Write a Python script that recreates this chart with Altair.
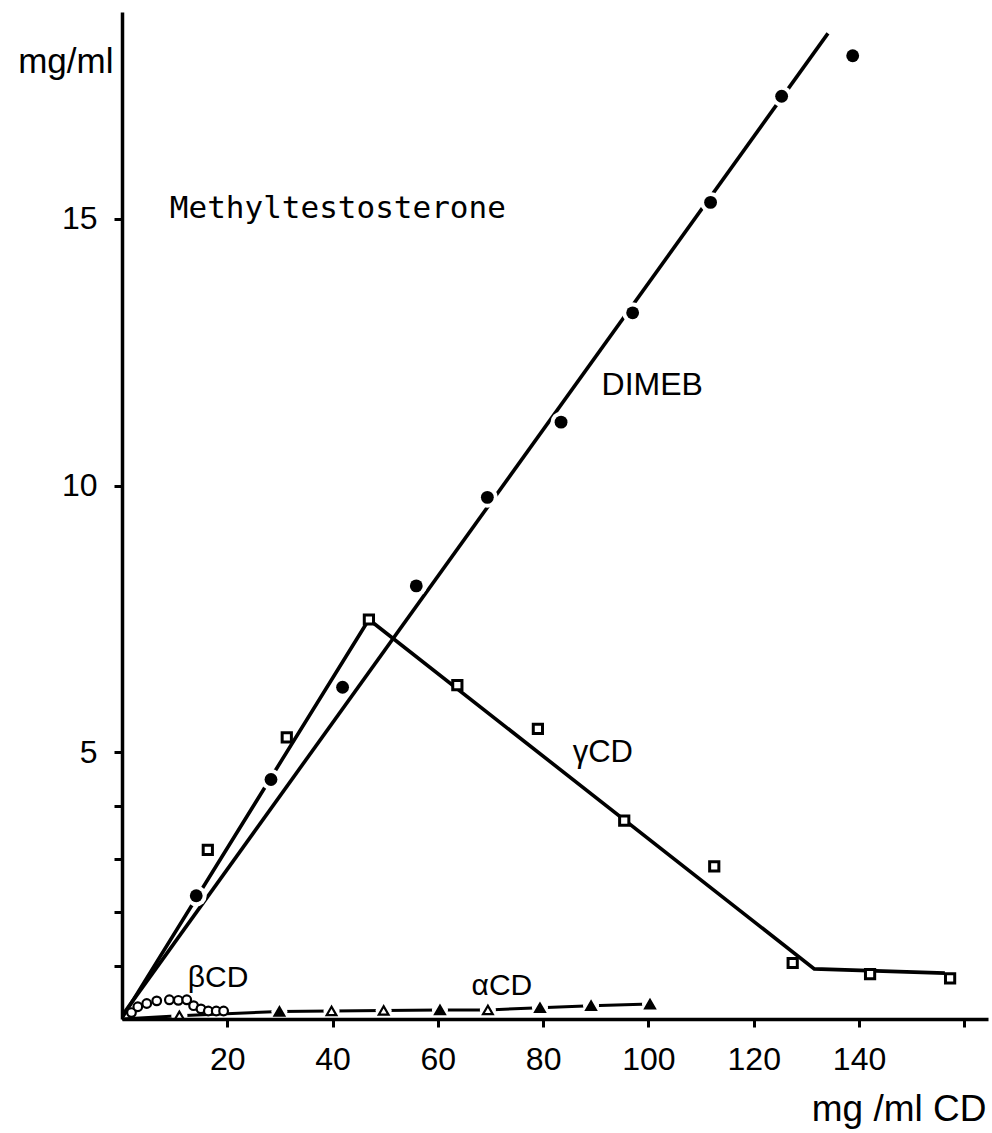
import altair as alt
import pandas as pd

# ---------------- data ----------------
# DIMEB (filled circles) and its straight fit line
dimeb_x = [14.1, 28.3, 41.9, 55.9, 69.4, 83.4, 97.0, 111.8, 125.3, 138.8]
dimeb_y = [2.31, 4.49, 6.22, 8.12, 9.78, 11.19, 13.24, 15.31, 17.30, 18.06]
dimeb_fit_x = [0.3, 134.1]
dimeb_fit_y = [0.10, 18.48]

# gamma-CD (open squares) and its broken line
gcd_x = [16.3, 31.3, 46.9, 63.7, 79.0, 95.4, 112.5, 127.4, 142.1, 157.3]
gcd_y = [3.17, 5.28, 7.49, 6.26, 5.44, 3.72, 2.86, 1.05, 0.84, 0.76]
gcd_line_x = [0.2, 46.9, 131.5, 156.3]
gcd_line_y = [0.05, 7.49, 0.94, 0.86]

# beta-CD (open circles)
bcd_x = [1.8, 3.0, 4.7, 6.6, 9.0, 10.7, 12.3, 13.6, 15.0, 16.4, 17.9, 19.3]
bcd_y = [0.12, 0.23, 0.29, 0.34, 0.36, 0.35, 0.36, 0.25, 0.19, 0.15, 0.15, 0.15]

# alpha-CD (triangles, some filled, some open)
acd_x = [10.9, 29.9, 39.8, 49.7, 60.4, 69.5, 79.4, 89.1, 100.3]
acd_y = [0.06, 0.14, 0.15, 0.16, 0.17, 0.17, 0.21, 0.25, 0.28]
acd_filled = [False, True, False, False, True, False, True, True, True]
acd_line_x = [0.0] + acd_x
acd_line_y = [0.0] + acd_y

# curve labels (data units)
lab_text = ["DIMEB", "γCD", "βCD", "αCD"]
lab_x = [91.1, 85.6, 12.5, 66.4]
lab_y = [11.70, 4.82, 0.60, 0.45]
lab_size = [32, 31, 30, 30]

title_text = ["Methyltestosterone"]
title_x = [41.0]
title_y = [15.02]

x_ticks = [20, 40, 60, 80, 100, 120, 140, 160]
y_ticks = [1, 2, 3, 4, 5, 10, 15]

# ---------------- tables ----------------
dimeb = pd.DataFrame({"x": dimeb_x, "y": dimeb_y})
dimeb_fit = pd.DataFrame({"x": dimeb_fit_x, "y": dimeb_fit_y})
gcd = pd.DataFrame({"x": gcd_x, "y": gcd_y})
gcd_line = pd.DataFrame({"x": gcd_line_x, "y": gcd_line_y})
bcd = pd.DataFrame({"x": bcd_x, "y": bcd_y})
acd = pd.DataFrame({"x": acd_x, "y": acd_y,
                    "fillc": ["black" if f else "white" for f in acd_filled]})
acd_line = pd.DataFrame({"x": acd_line_x, "y": acd_line_y})
labels = pd.DataFrame({"t": lab_text, "x": lab_x, "y": lab_y, "s": lab_size})
title_df = pd.DataFrame({"t": title_text, "x": title_x, "y": title_y})

FONT = "Liberation Sans"

x_axis = alt.Axis(
    values=x_ticks,
    labelExpr="datum.value == 160 ? '' : datum.label",
    title="mg /ml CD",
    grid=False, domainColor="black", domainWidth=3.5,
    tickColor="black", tickWidth=3, tickSize=8,
    labelFont=FONT, labelFontSize=32, labelColor="black", labelPadding=17,
    labelFlush=False, labelOverlap=False,
    titleFont=FONT, titleFontSize=37, titleFontWeight="normal", titleColor="black",
    titleX=864, titleY=101, titleAlign="right", titleBaseline="alphabetic",
    zindex=1,
)
y_axis = alt.Axis(
    values=y_ticks,
    labelExpr="datum.value % 5 == 0 ? datum.label : ''",
    title="mg/ml",
    grid=False, domainColor="black", domainWidth=3.5,
    tickColor="black", tickWidth=3, tickSize=8,
    labelFont=FONT, labelFontSize=32, labelColor="black", labelPadding=17,
    labelFlush=False, labelOverlap=False,
    titleFont=FONT, titleFontSize=35, titleFontWeight="normal", titleColor="black",
    titleAngle=0, titleX=-9, titleY=60, titleAlign="right", titleBaseline="alphabetic",
    zindex=1,
)

X = alt.X("x:Q", scale=alt.Scale(domain=[0, 164.5], nice=False, zero=False), axis=x_axis)
Y = alt.Y("y:Q", scale=alt.Scale(domain=[0, 18.88], nice=False, zero=False), axis=y_axis)

line_style = dict(color="black", strokeWidth=3.6, strokeCap="butt")

l_dimeb = alt.Chart(dimeb_fit).mark_line(**line_style).encode(x=X, y=Y)
l_gcd = alt.Chart(gcd_line).mark_line(**line_style, strokeJoin="miter").encode(x=X, y=Y)
l_acd = alt.Chart(acd_line).mark_line(color="black", strokeWidth=3).encode(x=X, y=Y)

# white halos that open the gaps in the lines around the symbols
h_dimeb = alt.Chart(dimeb).mark_point(shape="circle", filled=True, color="white",
                                      opacity=1, size=440).encode(x=X, y=Y)
h_acd = alt.Chart(acd).mark_point(shape="circle", filled=True, color="white",
                                  opacity=1, size=260).encode(x=X, y=Y)

p_dimeb = alt.Chart(dimeb).mark_point(shape="circle", filled=True, color="black",
                                      opacity=1, size=165).encode(x=X, y=Y)
p_gcd = alt.Chart(gcd).mark_point(shape="square", fill="white", stroke="black",
                                  strokeWidth=3, opacity=1, size=85).encode(x=X, y=Y)
p_bcd = alt.Chart(bcd).mark_point(shape="circle", fill="white", stroke="black",
                                  strokeWidth=2.2, opacity=1, size=75).encode(x=X, y=Y)
p_acd = alt.Chart(acd).mark_point(shape="triangle-up", stroke="black", strokeWidth=2.2,
                                  opacity=1, size=95).encode(
    x=X, y=Y, fill=alt.Fill("fillc:N", scale=None))

t_labels = alt.Chart(labels).mark_text(align="left", baseline="alphabetic", font=FONT,
                                       color="black").encode(
    x=X, y=Y, text="t:N", size=alt.Size("s:Q", scale=None))
t_title = alt.Chart(title_df).mark_text(align="center", baseline="alphabetic",
                                        font="DejaVu Sans Mono", fontSize=31,
                                        color="black").encode(x=X, y=Y, text="t:N")

chart = alt.layer(
    l_dimeb, l_gcd, l_acd, h_dimeb, h_acd, p_dimeb, p_gcd, p_bcd, p_acd, t_labels, t_title
).properties(
    width=866, height=1007,
    autosize=alt.AutoSizeParams(type="none"),
    padding={"left": 122, "top": 12, "right": 4, "bottom": 114},
    background="white",
).configure_view(stroke=None)

chart.save("out.html", embed_options={"renderer": "svg", "actions": False})
